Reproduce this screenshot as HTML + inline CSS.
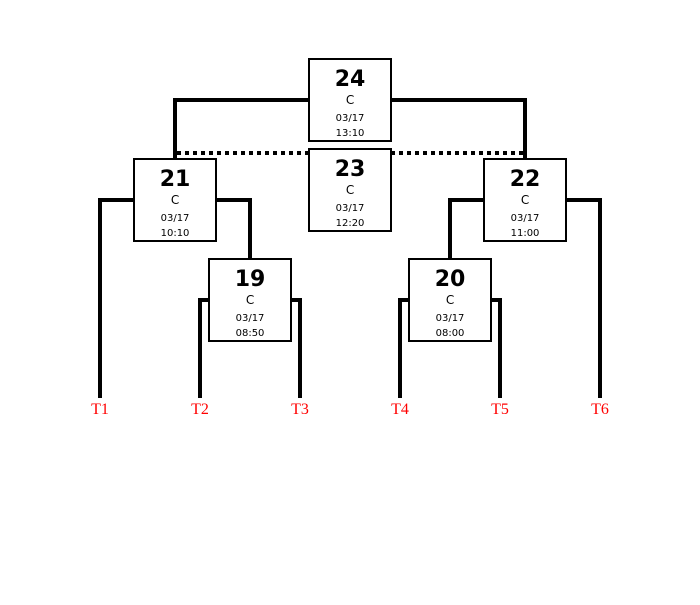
<!DOCTYPE html>
<html><head><style>body{margin:0;background:#fff}</style></head><body>
<svg width="700" height="600" xmlns="http://www.w3.org/2000/svg">
<g stroke="#000" stroke-width="4" fill="none">
<polyline points="308,100 175,100 175,158"/>
<polyline points="391,100 525,100 525,158"/>
<polyline points="133,200 100,200 100,398"/>
<polyline points="216,200 250,200 250,258"/>
<polyline points="208,300 200,300 200,398"/>
<polyline points="291,300 300,300 300,398"/>
<polyline points="483,200 450,200 450,258"/>
<polyline points="566,200 600,200 600,398"/>
<polyline points="408,300 400,300 400,398"/>
<polyline points="491,300 500,300 500,398"/>
<line x1="177" y1="153" x2="308" y2="153" stroke-dasharray="4,4"/>
<line x1="391" y1="153" x2="523" y2="153" stroke-dasharray="4,4"/>
</g>
<g stroke="#000" stroke-width="2" fill="#fff">
<rect x="309" y="59" width="82" height="82"/>
<rect x="309" y="149" width="82" height="82"/>
<rect x="134" y="159" width="82" height="82"/>
<rect x="484" y="159" width="82" height="82"/>
<rect x="209" y="259" width="82" height="82"/>
<rect x="409" y="259" width="82" height="82"/>
</g>
<g font-family="DejaVu Sans, sans-serif" text-anchor="middle" fill="#000">
<g transform="translate(350,59)"><text y="27" font-size="22" font-weight="bold">24</text><text y="45" font-size="12">C</text><text y="62" font-size="10">03/17</text><text y="77" font-size="10">13:10</text></g>
<g transform="translate(350,149)"><text y="27" font-size="22" font-weight="bold">23</text><text y="45" font-size="12">C</text><text y="62" font-size="10">03/17</text><text y="77" font-size="10">12:20</text></g>
<g transform="translate(175,159)"><text y="27" font-size="22" font-weight="bold">21</text><text y="45" font-size="12">C</text><text y="62" font-size="10">03/17</text><text y="77" font-size="10">10:10</text></g>
<g transform="translate(525,159)"><text y="27" font-size="22" font-weight="bold">22</text><text y="45" font-size="12">C</text><text y="62" font-size="10">03/17</text><text y="77" font-size="10">11:00</text></g>
<g transform="translate(250,259)"><text y="27" font-size="22" font-weight="bold">19</text><text y="45" font-size="12">C</text><text y="62" font-size="10">03/17</text><text y="77" font-size="10">08:50</text></g>
<g transform="translate(450,259)"><text y="27" font-size="22" font-weight="bold">20</text><text y="45" font-size="12">C</text><text y="62" font-size="10">03/17</text><text y="77" font-size="10">08:00</text></g>
</g>
<g font-family="Liberation Serif, serif" font-size="16" fill="#f00" text-anchor="middle">
<text x="100" y="414">T1</text><text x="200" y="414">T2</text><text x="300" y="414">T3</text>
<text x="400" y="414">T4</text><text x="500" y="414">T5</text><text x="600" y="414">T6</text>
</g>
</svg>
</body></html>
